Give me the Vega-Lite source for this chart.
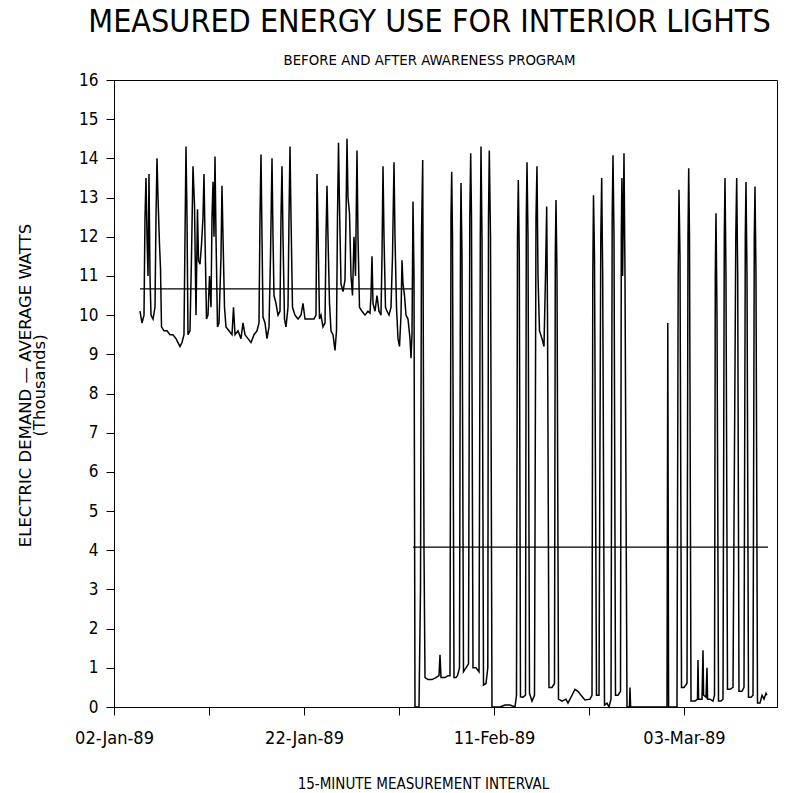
{
"$schema": "https://vega.github.io/schema/vega-lite/v6.json",
"autosize": "none",
"width": 663,
"height": 627,
"padding": {"left": 114, "top": 80, "right": 9, "bottom": 86},
"background": "white",
"config": {"view": {"stroke": "black", "strokeWidth": 1}},
"title": {
  "text": "MEASURED ENERGY USE FOR INTERIOR LIGHTS",
  "subtitle": "BEFORE AND AFTER AWARENESS PROGRAM",
  "font": "DejaVu Sans Condensed, DejaVu Sans, sans-serif", "fontSize": 32, "fontWeight": "normal", "color": "black",
  "subtitleFont": "DejaVu Sans Condensed, DejaVu Sans, sans-serif", "subtitleFontSize": 14.8, "subtitleColor": "black",
  "anchor": "middle", "frame": "group", "offset": 2, "subtitlePadding": 14, "dx": -16
},
"datasets": {
"demand": [
{"day":2.737,"kw":10.1},{"day":2.947,"kw":9.8},{"day":3.158,"kw":10.0},{"day":3.263,"kw":12.5},{"day":3.368,"kw":13.5},{"day":3.474,"kw":12.0},{"day":3.579,"kw":11.0},{"day":3.684,"kw":13.6},{"day":3.789,"kw":11.0},{"day":3.895,"kw":10.0},
{"day":4.105,"kw":9.9},{"day":4.316,"kw":10.2},{"day":4.421,"kw":12.5},{"day":4.526,"kw":14.0},{"day":4.632,"kw":13.0},{"day":4.789,"kw":11.8},{"day":4.895,"kw":11.2},{"day":5.0,"kw":9.7},{"day":5.263,"kw":9.6},{"day":5.579,"kw":9.6},
{"day":5.895,"kw":9.5},{"day":6.211,"kw":9.5},{"day":6.526,"kw":9.4},{"day":6.737,"kw":9.3},{"day":6.947,"kw":9.2},{"day":7.158,"kw":9.3},{"day":7.368,"kw":9.5},{"day":7.474,"kw":12.0},{"day":7.579,"kw":14.3},{"day":7.684,"kw":12.5},
{"day":7.789,"kw":9.5},{"day":8.0,"kw":9.6},{"day":8.158,"kw":11.5},{"day":8.316,"kw":13.8},{"day":8.474,"kw":12.8},{"day":8.632,"kw":10.0},{"day":8.789,"kw":12.7},{"day":8.895,"kw":11.4},{"day":9.053,"kw":11.3},{"day":9.211,"kw":11.8},
{"day":9.368,"kw":12.5},{"day":9.474,"kw":13.6},{"day":9.579,"kw":12.0},{"day":9.737,"kw":9.9},{"day":9.895,"kw":10.0},{"day":10.053,"kw":11.0},{"day":10.211,"kw":10.2},{"day":10.316,"kw":12.5},{"day":10.421,"kw":13.4},{"day":10.526,"kw":12.0},
{"day":10.632,"kw":14.05},{"day":10.737,"kw":12.0},{"day":10.895,"kw":9.7},{"day":11.053,"kw":9.8},{"day":11.263,"kw":11.5},{"day":11.368,"kw":13.3},{"day":11.474,"kw":12.0},{"day":11.632,"kw":10.2},{"day":11.789,"kw":9.7},{"day":12.105,"kw":9.6},
{"day":12.421,"kw":9.5},{"day":12.579,"kw":10.2},{"day":12.737,"kw":9.5},{"day":13.053,"kw":9.6},{"day":13.368,"kw":9.4},{"day":13.579,"kw":9.8},{"day":13.789,"kw":9.5},{"day":14.105,"kw":9.4},{"day":14.421,"kw":9.3},{"day":14.737,"kw":9.5},
{"day":15.053,"kw":9.6},{"day":15.263,"kw":9.8},{"day":15.368,"kw":12.5},{"day":15.474,"kw":14.1},{"day":15.579,"kw":12.0},{"day":15.684,"kw":9.95},{"day":15.895,"kw":9.8},{"day":16.105,"kw":9.4},{"day":16.316,"kw":9.7},{"day":16.474,"kw":11.5},
{"day":16.632,"kw":14.0},{"day":16.737,"kw":12.0},{"day":16.842,"kw":10.5},{"day":17.053,"kw":10.3},{"day":17.263,"kw":10.0},{"day":17.474,"kw":10.1},{"day":17.579,"kw":12.5},{"day":17.684,"kw":13.8},{"day":17.789,"kw":12.0},{"day":17.947,"kw":9.9},
{"day":18.105,"kw":9.7},{"day":18.316,"kw":10.2},{"day":18.421,"kw":12.5},{"day":18.526,"kw":14.3},{"day":18.632,"kw":12.5},{"day":18.789,"kw":10.2},{"day":19.053,"kw":10.0},{"day":19.368,"kw":9.9},{"day":19.684,"kw":10.0},{"day":19.895,"kw":10.3},
{"day":20.105,"kw":9.9},{"day":20.421,"kw":9.9},{"day":20.737,"kw":9.9},{"day":21.053,"kw":9.9},{"day":21.263,"kw":10.0},{"day":21.368,"kw":13.6},{"day":21.474,"kw":12.2},{"day":21.632,"kw":9.9},{"day":21.789,"kw":10.0},{"day":22.0,"kw":9.7},
{"day":22.211,"kw":9.8},{"day":22.316,"kw":12.0},{"day":22.421,"kw":13.3},{"day":22.526,"kw":12.0},{"day":22.684,"kw":10.3},{"day":22.842,"kw":9.6},{"day":23.053,"kw":9.5},{"day":23.263,"kw":9.1},{"day":23.421,"kw":9.6},{"day":23.526,"kw":12.5},
{"day":23.632,"kw":14.4},{"day":23.737,"kw":12.8},{"day":23.895,"kw":10.8},{"day":24.105,"kw":10.6},{"day":24.316,"kw":10.9},{"day":24.421,"kw":12.5},{"day":24.526,"kw":14.5},{"day":24.632,"kw":13.0},{"day":24.789,"kw":12.6},{"day":24.947,"kw":11.0},
{"day":25.105,"kw":10.5},{"day":25.263,"kw":12.0},{"day":25.421,"kw":11.0},{"day":25.579,"kw":14.2},{"day":25.684,"kw":12.0},{"day":25.842,"kw":10.2},{"day":26.105,"kw":10.1},{"day":26.421,"kw":10.0},{"day":26.737,"kw":10.1},{"day":26.947,"kw":10.05},
{"day":27.053,"kw":10.5},{"day":27.158,"kw":11.5},{"day":27.263,"kw":10.3},{"day":27.474,"kw":10.1},{"day":27.684,"kw":10.5},{"day":27.895,"kw":10.1},{"day":28.105,"kw":10.0},{"day":28.211,"kw":11.5},{"day":28.316,"kw":13.8},{"day":28.421,"kw":12.0},
{"day":28.579,"kw":10.2},{"day":28.737,"kw":10.1},{"day":28.947,"kw":10.0},{"day":29.158,"kw":10.2},{"day":29.316,"kw":11.5},{"day":29.474,"kw":13.9},{"day":29.579,"kw":12.0},{"day":29.737,"kw":10.2},{"day":29.895,"kw":9.4},{"day":30.053,"kw":9.2},
{"day":30.211,"kw":10.0},{"day":30.316,"kw":11.4},{"day":30.421,"kw":10.8},{"day":30.579,"kw":10.5},{"day":30.737,"kw":10.0},{"day":30.947,"kw":9.9},{"day":31.158,"kw":9.4},{"day":31.263,"kw":8.9},{"day":31.368,"kw":9.5},{"day":31.474,"kw":12.9},
{"day":31.579,"kw":11.0},{"day":31.684,"kw":0.0},{"day":32.105,"kw":0.0},{"day":32.263,"kw":3.0},{"day":32.368,"kw":12.0},{"day":32.495,"kw":13.96},{"day":32.632,"kw":4.0},{"day":32.737,"kw":0.75},{"day":33.053,"kw":0.7},{"day":33.474,"kw":0.7},
{"day":33.895,"kw":0.75},{"day":34.211,"kw":0.8},{"day":34.316,"kw":1.33},{"day":34.421,"kw":0.75},{"day":34.842,"kw":0.75},{"day":35.158,"kw":0.8},{"day":35.368,"kw":0.8},{"day":35.474,"kw":12.5},{"day":35.547,"kw":13.66},{"day":35.632,"kw":12.0},
{"day":35.789,"kw":0.75},{"day":36.0,"kw":0.75},{"day":36.158,"kw":0.8},{"day":36.368,"kw":1.0},{"day":36.474,"kw":12.0},{"day":36.526,"kw":13.37},{"day":36.632,"kw":11.5},{"day":36.789,"kw":0.9},{"day":37.053,"kw":1.0},{"day":37.316,"kw":1.1},
{"day":37.453,"kw":12.5},{"day":37.547,"kw":14.13},{"day":37.632,"kw":12.5},{"day":37.789,"kw":1.0},{"day":38.105,"kw":1.0},{"day":38.421,"kw":0.9},{"day":38.558,"kw":12.0},{"day":38.632,"kw":14.3},{"day":38.737,"kw":12.0},{"day":38.895,"kw":0.56},
{"day":39.158,"kw":0.6},{"day":39.347,"kw":1.0},{"day":39.421,"kw":12.5},{"day":39.505,"kw":14.2},{"day":39.632,"kw":12.0},{"day":39.789,"kw":0.0},{"day":40.632,"kw":0.0},{"day":41.158,"kw":0.05},{"day":41.684,"kw":0.05},{"day":42.211,"kw":0.0},
{"day":42.368,"kw":0.3},{"day":42.474,"kw":12.0},{"day":42.558,"kw":13.45},{"day":42.663,"kw":11.5},{"day":42.789,"kw":0.26},{"day":43.053,"kw":0.25},{"day":43.316,"kw":0.3},{"day":43.4,"kw":12.5},{"day":43.474,"kw":13.9},{"day":43.579,"kw":12.0},
{"day":43.737,"kw":0.35},{"day":44.0,"kw":0.15},{"day":44.263,"kw":0.3},{"day":44.421,"kw":12.5},{"day":44.526,"kw":13.8},{"day":44.632,"kw":11.0},{"day":44.789,"kw":9.6},{"day":45.053,"kw":9.4},{"day":45.263,"kw":9.2},{"day":45.421,"kw":11.0},
{"day":45.547,"kw":12.77},{"day":45.632,"kw":10.0},{"day":45.789,"kw":0.5},{"day":46.105,"kw":0.5},{"day":46.368,"kw":0.6},{"day":46.453,"kw":11.5},{"day":46.526,"kw":12.94},{"day":46.632,"kw":11.0},{"day":46.789,"kw":0.2},{"day":47.158,"kw":0.15},
{"day":47.579,"kw":0.2},{"day":47.789,"kw":0.1},{"day":48.211,"kw":0.3},{"day":48.526,"kw":0.45},{"day":48.842,"kw":0.4},{"day":49.158,"kw":0.3},{"day":49.579,"kw":0.18},{"day":50.105,"kw":0.2},{"day":50.316,"kw":0.3},{"day":50.4,"kw":11.0},
{"day":50.474,"kw":13.06},{"day":50.579,"kw":11.5},{"day":50.789,"kw":0.3},{"day":51.053,"kw":0.3},{"day":51.242,"kw":12.0},{"day":51.337,"kw":13.5},{"day":51.442,"kw":11.0},{"day":51.632,"kw":0.05},{"day":51.895,"kw":0.1},{"day":52.105,"kw":0.0},
{"day":52.316,"kw":0.2},{"day":52.442,"kw":12.5},{"day":52.526,"kw":14.08},{"day":52.632,"kw":12.0},{"day":52.789,"kw":0.3},{"day":53.053,"kw":0.3},{"day":53.316,"kw":0.4},{"day":53.4,"kw":12.0},{"day":53.463,"kw":13.5},{"day":53.537,"kw":11.0},
{"day":53.611,"kw":12.5},{"day":53.684,"kw":14.13},{"day":53.789,"kw":11.0},{"day":54.0,"kw":0.0},{"day":54.263,"kw":0.0},{"day":54.316,"kw":0.5},{"day":54.379,"kw":0.0},{"day":55.368,"kw":0.0},{"day":56.421,"kw":0.0},{"day":57.474,"kw":0.0},
{"day":58.211,"kw":0.0},{"day":58.295,"kw":9.8},{"day":58.379,"kw":0.0},{"day":59.263,"kw":0.0},{"day":59.389,"kw":11.0},{"day":59.474,"kw":13.2},{"day":59.579,"kw":11.5},{"day":59.737,"kw":0.5},{"day":60.0,"kw":0.5},{"day":60.316,"kw":0.6},
{"day":60.421,"kw":12.0},{"day":60.495,"kw":13.75},{"day":60.579,"kw":12.0},{"day":60.737,"kw":0.15},{"day":61.158,"kw":0.15},{"day":61.421,"kw":0.2},{"day":61.474,"kw":1.2},{"day":61.537,"kw":0.2},{"day":61.895,"kw":0.2},{"day":62.0,"kw":1.45},
{"day":62.063,"kw":0.3},{"day":62.316,"kw":0.25},{"day":62.421,"kw":1.0},{"day":62.484,"kw":0.2},{"day":62.737,"kw":0.2},{"day":63.053,"kw":0.15},{"day":63.211,"kw":0.3},{"day":63.295,"kw":11.0},{"day":63.368,"kw":12.6},{"day":63.474,"kw":10.0},
{"day":63.632,"kw":0.15},{"day":63.895,"kw":0.15},{"day":64.105,"kw":0.2},{"day":64.242,"kw":12.0},{"day":64.316,"kw":13.5},{"day":64.421,"kw":11.0},{"day":64.579,"kw":0.45},{"day":64.842,"kw":0.45},{"day":65.158,"kw":0.5},{"day":65.453,"kw":12.0},
{"day":65.547,"kw":13.5},{"day":65.653,"kw":11.0},{"day":65.789,"kw":0.4},{"day":66.105,"kw":0.4},{"day":66.316,"kw":0.5},{"day":66.453,"kw":12.0},{"day":66.526,"kw":13.4},{"day":66.632,"kw":11.0},{"day":66.789,"kw":0.25},{"day":67.053,"kw":0.25},
{"day":67.263,"kw":0.3},{"day":67.4,"kw":12.0},{"day":67.474,"kw":13.28},{"day":67.579,"kw":11.0},{"day":67.737,"kw":0.1},{"day":68.0,"kw":0.1},{"day":68.211,"kw":0.3},{"day":68.421,"kw":0.2},{"day":68.632,"kw":0.35},{"day":68.737,"kw":0.3}
],
"averages": [
{"period":"Before","start":2.737,"end":31.474,"mean":10.67},
{"period":"After","start":31.474,"end":68.842,"mean":4.08}
]
},
"layer": [
{
  "data": {"name": "demand"},
  "mark": {"type": "line", "color": "black", "strokeWidth": 1.5},
  "encoding": {
    "x": {"field": "day", "type": "quantitative",
      "scale": {"domain": [0, 69.79], "nice": false, "zero": false},
      "axis": {"values": [0, 10, 20, 30, 40, 50, 60], "tickCount": 20, "grid": false,
        "labelExpr": "datum.value == 0 ? '02-Jan-89' : datum.value == 20 ? '22-Jan-89' : datum.value == 40 ? '11-Feb-89' : datum.value == 60 ? '03-Mar-89' : ''",
        "labelFont": "DejaVu Sans Condensed, DejaVu Sans, sans-serif", "labelFontSize": 18, "labelColor": "black", "labelPadding": 14,
        "labelFlush": false, "labelOverlap": false,
        "tickSize": 8, "tickColor": "black", "domainColor": "black",
        "title": "15-MINUTE MEASUREMENT INTERVAL", "titleFont": "DejaVu Sans Condensed, DejaVu Sans, sans-serif", "titleFontSize": 15,
        "titleFontWeight": "normal", "titleColor": "black", "titleX": 309, "titleY": 76, "titleBaseline": "middle", "titleAlign": "center"}},
    "y": {"field": "kw", "type": "quantitative",
      "scale": {"domain": [0, 16], "nice": false},
      "axis": {"values": [0,1,2,3,4,5,6,7,8,9,10,11,12,13,14,15,16], "tickCount": 20, "grid": false,
        "labelFont": "DejaVu Sans Condensed, DejaVu Sans, sans-serif", "labelFontSize": 17, "labelColor": "black", "labelPadding": 8,
        "labelOverlap": false, "labelFlush": false,
        "tickSize": 8, "tickColor": "black", "domainColor": "black",
        "title": ["ELECTRIC DEMAND — AVERAGE WATTS", "(Thousands)"], "titleFont": "DejaVu Sans", "titleFontSize": 16.5,
        "titleFontWeight": "normal", "titleColor": "black", "titleLineHeight": 14,
        "titleAngle": -90, "titleX": -89, "titleY": 305, "titleBaseline": "middle", "titleAlign": "center"}}
  }
},
{
  "data": {"name": "averages"},
  "mark": {"type": "rule", "color": "black", "strokeWidth": 1.2},
  "encoding": {
    "x": {"field": "start", "type": "quantitative"},
    "x2": {"field": "end"},
    "y": {"field": "mean", "type": "quantitative"}
  }
}
]
}
